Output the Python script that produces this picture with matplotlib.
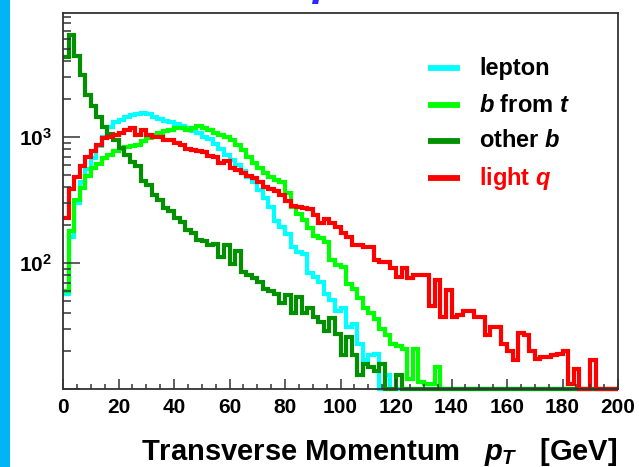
import numpy as np
import matplotlib
matplotlib.use("Agg")
import matplotlib.pyplot as plt
from matplotlib.patches import Rectangle
from matplotlib.ticker import FixedLocator, MultipleLocator, FixedFormatter, NullFormatter

plt.rcParams['font.family'] = ['Liberation Sans', 'DejaVu Sans']
plt.rcParams['mathtext.fontset'] = 'custom'
plt.rcParams['mathtext.rm'] = 'Liberation Sans:bold'
plt.rcParams['mathtext.it'] = 'Liberation Sans:bold:italic'
plt.rcParams['mathtext.bf'] = 'Liberation Sans:bold'

# ---------------- data (2 GeV bins, 0-200 GeV) ----------------
bin_edges = np.arange(0, 202, 2)

lepton = [57, 160, 300, 440, 560, 680, 850, 1000, 1200, 1330,
          1380, 1440, 1500, 1530, 1550, 1520, 1450, 1400, 1350, 1330,
          1280, 1230, 1180, 1120, 1080, 1010, 960, 880, 800, 720,
          660, 600, 540, 480, 440, 380, 330, 280, 215, 194,
          172, 135, 123, 119, 83, 78, 71, 57, 51, 42,
          44, 31, 33, 23, 17, 18.6, 19, 0, 13, 0] + [0] * 40

b_from_t = [60, 180, 318, 395, 490, 565, 610, 680, 720, 780,
            805, 840, 850, 860, 930, 980, 1040, 1075, 1110, 1140,
            1180, 1180, 1140, 1180, 1230, 1180, 1130, 1075, 1040, 1010,
            950, 870, 790, 700, 620, 565, 520, 480, 456, 440,
            360, 280, 245, 220, 190, 165, 158, 148, 106, 97,
            94, 68, 62, 53, 44, 40, 36, 30, 27, 23,
            22, 21, 12, 21, 11.5, 11, 11, 15, 0, 0] + [0] * 30

other_b = [4300, 6500, 4400, 3100, 2150, 1770, 1450, 1200, 1060, 950,
           820, 720, 640, 585, 450, 420, 350, 320, 275, 258,
           228, 214, 185, 173, 153, 150, 140, 143, 112, 139,
           99, 125, 85, 80, 77, 71, 62, 60, 57, 48,
           56, 40, 54, 40, 44, 37.5, 34, 29, 37, 27.7,
           18.6, 26, 18.6, 12.9, 16, 15, 14, 16, 0, 0,
           13] + [0] * 39

light_q = [228, 390, 487, 585, 700, 770, 870, 980, 1010, 1040,
           1080, 1140, 1180, 1040, 1140, 1040, 1010, 1000, 950, 950,
           900, 870, 800, 790, 780, 760, 710, 700, 620, 650,
           570, 550, 520, 490, 470, 440, 400, 390, 375, 350,
           310, 285, 278, 272, 270, 240, 207, 226, 207, 194,
           175, 162, 139, 139, 135, 135, 106, 103, 103, 91,
           78, 91, 76, 80, 80, 80, 46, 73, 37.5, 61,
           37.5, 39, 42, 42, 37.5, 37.5, 27, 31, 31, 23,
           20, 17, 28, 27, 20, 17.5, 18, 18, 18.6, 19,
           20, 11, 14.5, 0, 0, 17, 0, 0, 0, 0]

labels = ['lepton', '$b$ from $t$', 'other $b$', 'light $q$']
colors = ['#00ffff', '#00ff00', '#009000', '#ff0000']
label_colors = ['black', 'black', 'black', '#ff0000']
series = [lepton, b_from_t, other_b, light_q]

YMIN, YMAX = 10, 9600
W, H = 639, 467

fig = plt.figure(figsize=(W / 100, H / 100), dpi=100)
fig.patch.set_facecolor('white')
fig.patches.append(Rectangle((0, 0), 10 / W, 1, transform=fig.transFigure,
                             facecolor='#00b4f5', edgecolor='none', zorder=0))

ax_l, ax_r, ax_t, ax_b = 63, 618, 13.3, 389.3
ax = fig.add_axes([ax_l / W, 1 - ax_b / H, (ax_r - ax_l) / W, (ax_b - ax_t) / H])

for vals, c in zip(series, colors):
    v = np.clip(np.asarray(vals, dtype=float), YMIN, None)
    sp = ax.stairs(v, bin_edges, baseline=None, color=c, lw=3.0, clip_on=False)
    sp.set_joinstyle('miter')
    sp.set_capstyle('butt')

ax.set_xlim(0, 200)
ax.set_yscale('log')
ax.set_ylim(YMIN, YMAX)

ax.xaxis.set_major_locator(MultipleLocator(20))
ax.xaxis.set_minor_locator(MultipleLocator(5))
ax.yaxis.set_major_locator(FixedLocator([10, 100, 1000]))
ax.yaxis.set_major_formatter(FixedFormatter(['', r'$10^{2}$', r'$10^{3}$']))
minor = [m * 10 ** k for k in (1, 2, 3) for m in range(2, 10)]
ax.yaxis.set_minor_locator(FixedLocator(minor))
ax.yaxis.set_minor_formatter(NullFormatter())

ax.tick_params(axis='both', which='both', direction='in', top=False, right=False,
               color='#333333', width=1.1)
ax.tick_params(axis='x', which='major', length=7.4, pad=6)
ax.tick_params(axis='x', which='minor', length=3.8)
ax.tick_params(axis='y', which='major', length=12, pad=8)
ax.tick_params(axis='y', which='minor', length=6)
for lab in ax.get_xticklabels() + ax.get_yticklabels():
    lab.set_fontsize(15)
    lab.set_fontweight('bold')

for s in ax.spines.values():
    s.set_color('#333333')
    s.set_linewidth(1.3)

# legend (manual, ROOT style)
rows_px = [68.3, 105, 140.5, 178.3]
for lab, c, lc, ypx in zip(labels, colors, label_colors, rows_px):
    yl = (ax_b - ypx) / (ax_b - ax_t)
    ax.plot([(428 - ax_l) / (ax_r - ax_l), (460 - ax_l) / (ax_r - ax_l)], [yl, yl],
            transform=ax.transAxes, color=c, lw=4.2, solid_capstyle='butt', clip_on=False)
    yb = (ax_b - (ypx + 6.5)) / (ax_b - ax_t)
    ax.text((479 - ax_l) / (ax_r - ax_l), yb, lab, transform=ax.transAxes,
            fontsize=17, fontweight='bold', color=lc, va='baseline', ha='left')

fig.text(617 / W, 1 - 460 / H, 'Transverse Momentum   $p_T$   [GeV]',
         fontsize=21, fontweight='bold', ha='right', va='baseline')

# cut-off title glyph at the very top (only its descender is visible, as in the slide)
fig.text(313 / W, 1 + 5 / H, 'p', fontsize=32, fontweight='bold', fontstyle='italic',
         color='#2a2aff', ha='left', va='baseline')

fig.savefig('out.png', dpi=100, facecolor='white')
